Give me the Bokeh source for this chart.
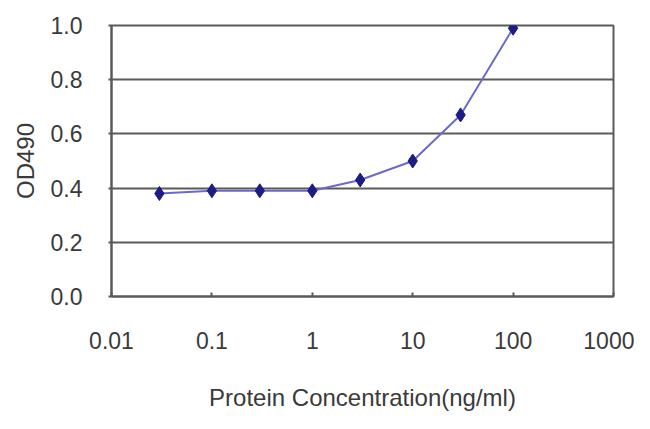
from bokeh.plotting import figure
from bokeh.models import FixedTicker, Range1d
from bokeh.embed import file_html
from bokeh.resources import INLINE

conc = [0.03, 0.1, 0.3, 1, 3, 10, 30, 100]
od490 = [0.38, 0.39, 0.39, 0.39, 0.43, 0.50, 0.67, 0.99]
x_ticks = [0.01, 0.1, 1, 10, 100, 1000]
x_tick_labels = ["0.01", "0.1", "1", "10", "100", "1000"]
y_ticks = [0.0, 0.2, 0.4, 0.6, 0.8, 1.0]
y_tick_labels = ["0.0", "0.2", "0.4", "0.6", "0.8", "1.0"]

FONT = "Liberation Sans"
TXT = "#3a3a3a"
GRID = "#5a5a5a"

p = figure(width=634, height=413, x_axis_type="log", output_backend="svg",
           toolbar_location=None,
           x_range=Range1d(0.01, 1000), y_range=Range1d(0, 1.0),
           min_border_left=111, min_border_right=21, min_border_top=25,
           min_border_bottom=117)
p.frame_width = 502
p.frame_height = 271

p.line(conc, od490, line_color="#6a6acc", line_width=2)
p.scatter(conc, od490, marker="diamond", size=14, fill_color="#1c1c84",
          line_color="#1c1c84")

p.xgrid.grid_line_color = None
p.ygrid.grid_line_color = GRID
p.ygrid.grid_line_width = 2
p.outline_line_color = GRID
p.outline_line_width = 2

p.xaxis.ticker = FixedTicker(ticks=x_ticks, minor_ticks=[])
p.xaxis.major_label_overrides = dict(zip(x_ticks, x_tick_labels))
p.yaxis.ticker = FixedTicker(ticks=y_ticks, minor_ticks=[])
p.yaxis.major_label_overrides = dict(zip(y_ticks, y_tick_labels))

for ax in (p.xaxis[0], p.yaxis[0]):
    ax.axis_line_color = GRID
    ax.axis_line_width = 2
    ax.major_tick_line_color = GRID
    ax.major_tick_line_width = 2
    ax.minor_tick_line_color = None
    ax.major_label_text_font = FONT
    ax.major_label_text_font_size = "23px"
    ax.major_label_text_color = TXT
    ax.axis_label_text_font = FONT
    ax.axis_label_text_font_size = "24px"
    ax.axis_label_text_font_style = "normal"
    ax.axis_label_text_color = TXT

p.xaxis.major_tick_in = 4
p.xaxis.major_tick_out = 0
p.yaxis.major_tick_in = 0
p.yaxis.major_tick_out = 3

p.xaxis.axis_label = "Protein Concentration(ng/ml)"
p.yaxis.axis_label = "OD490"
p.xaxis.major_label_standoff = 35
p.xaxis.axis_label_standoff = 32
p.yaxis.major_label_standoff = 26
p.yaxis.axis_label_standoff = 9

open("out.html", "w").write(file_html(p, INLINE))
